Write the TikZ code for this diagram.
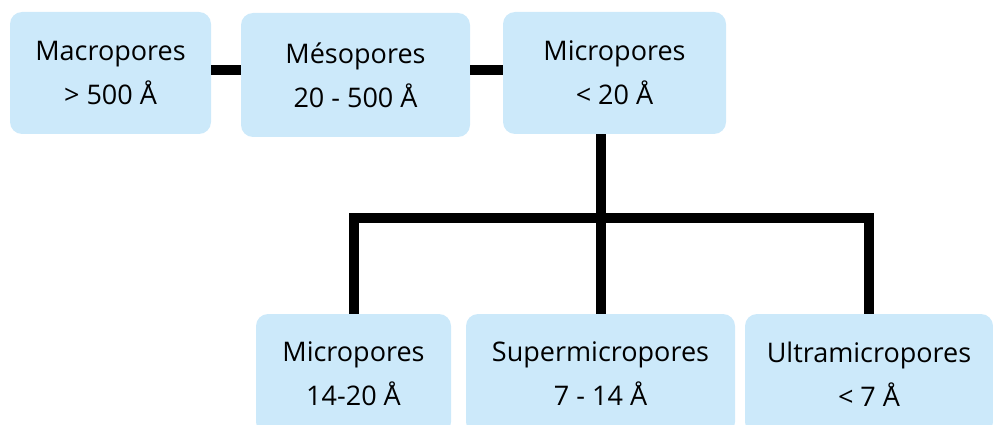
\documentclass[tikz,border=0pt]{standalone}
\usepackage{fontspec}
\setmainfont{Open Sans}
\definecolor{boxblue}{RGB}{204,233,250}
\begin{document}
\begin{tikzpicture}[x=1pt,y=-1pt,
  porebox/.style={fill=boxblue, rounded corners=12pt, align=center, inner sep=0pt,
    font=\fontsize{27}{44}\selectfont},
  link/.style={line width=10pt, line join=miter, draw=black}]
\useasboundingbox (0,0) rectangle (993,425);
\clip (0,0) rectangle (993,425);
% top row
\node[porebox, minimum width=201pt, minimum height=122pt] (macro) at (110.5,73) {Macropores\\> 500 Å};
\node[porebox, minimum width=229pt, minimum height=124pt] (meso) at (355.5,75) {Mésopores\\20 - 500 Å};
\node[porebox, minimum width=223pt, minimum height=122pt] (micro) at (614.5,73) {Micropores\\< 20 Å};
% bottom row
\node[porebox, minimum width=195pt, minimum height=120pt] (microb) at (353.5,374) {Micropores\\14-20 Å};
\node[porebox, minimum width=269pt, minimum height=120pt] (super) at (600.5,374) {Supermicropores\\7 - 14 Å};
\node[porebox, minimum width=248pt, minimum height=120pt] (ultra) at (869,374) {Ultramicropores\\< 7 Å};
\coordinate (hbar) at (0,70);
\coordinate (bar) at (0,218);
% connectors
\draw[link] (macro.east |- hbar) -- (meso.west |- hbar);
\draw[link] (meso.east |- hbar) -- (micro.west |- hbar);
\draw[link] (micro.south -| super.north) -- (super.north);
\draw[link] (microb.north) -- (microb.north |- bar) -- (ultra.north |- bar) -- (ultra.north);
\end{tikzpicture}
\end{document}
